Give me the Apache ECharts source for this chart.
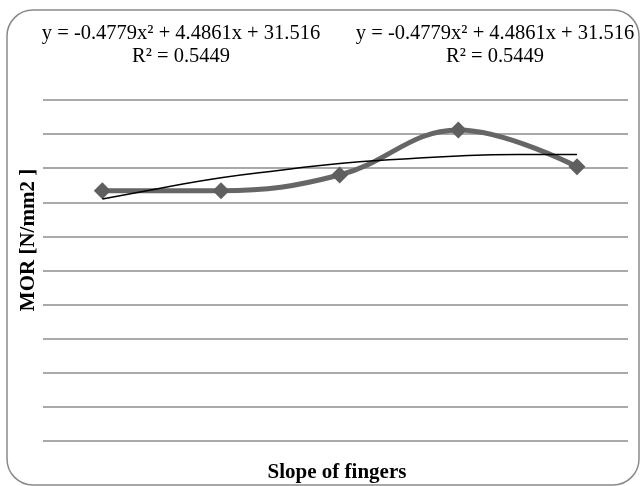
<!DOCTYPE html>
<html><head><meta charset="utf-8">
<script src="https://cdn.jsdelivr.net/npm/echarts@6/dist/echarts.min.js"></script>
<style>html,body{margin:0;padding:0;background:#fff}#c{width:643px;height:486px}</style>
</head><body><div id="c"></div>
<script>
const categories = [1, 2, 3, 4, 5];
const morValues = [36.7, 36.7, 39.0, 45.6, 40.2];
const trendX = [1, 1.5, 2, 2.5, 3, 3.5, 4, 4.5, 5];
const trendValues = [35.5, 37.1, 38.6, 39.7, 40.7, 41.3, 41.8, 42.0, 42.0];
const equationText = 'y = -0.4779x² + 4.4861x + 31.516';
const r2Text = 'R² = 0.5449';

const chart = echarts.init(document.getElementById('c'), null, {renderer: 'canvas'});
const serif = '"Liberation Serif", "Times New Roman", serif';
chart.setOption({
  animation: false,
  grid: {left: 43, right: 15, top: 100, bottom: 45, containLabel: false},
  xAxis: {
    type: 'value', min: 0.5, max: 5.43,
    axisLine: {show: false}, axisTick: {show: false}, axisLabel: {show: false},
    splitLine: {show: false}
  },
  yAxis: {
    type: 'value', min: 0, max: 50, interval: 5,
    axisLine: {show: false}, axisTick: {show: false}, axisLabel: {show: false},
    splitLine: {show: true, lineStyle: {color: '#8c8c8c', width: 1.5}}
  },
  graphic: [
    {type: 'rect', shape: {x: 7, y: 10, width: 632, height: 475, r: 26},
     style: {fill: 'none', stroke: '#8a8a8a', lineWidth: 1.5}, z: 0},
    {type: 'text', x: 181, y: 34, style: {text: equationText, font: '20.5px ' + serif, fill: '#000', align: 'center', verticalAlign: 'middle'}},
    {type: 'text', x: 181, y: 57, style: {text: r2Text, font: '20.5px ' + serif, fill: '#000', align: 'center', verticalAlign: 'middle'}},
    {type: 'text', x: 495, y: 34, style: {text: equationText, font: '20.5px ' + serif, fill: '#000', align: 'center', verticalAlign: 'middle'}},
    {type: 'text', x: 495, y: 57, style: {text: r2Text, font: '20.5px ' + serif, fill: '#000', align: 'center', verticalAlign: 'middle'}},
    {type: 'text', x: 337, y: 473, style: {text: 'Slope of fingers', font: 'bold 21px ' + serif, fill: '#000', align: 'center', verticalAlign: 'middle'}},
    {type: 'text', x: 29, y: 240, rotation: Math.PI / 2, style: {text: 'MOR [N/mm2 ]', font: 'bold 21px ' + serif, fill: '#000', align: 'center', verticalAlign: 'middle'}}
  ],
  series: [
    {
      type: 'line', data: categories.map((c, i) => [c, morValues[i]]),
      smooth: 0.4, symbol: 'diamond', symbolSize: 17,
      lineStyle: {color: '#666666', width: 5},
      itemStyle: {color: '#5f5f5f'}, z: 2
    },
    {
      type: 'line', data: trendX.map((x, i) => [x, trendValues[i]]),
      smooth: true, symbol: 'none',
      lineStyle: {color: '#000', width: 1.5}, z: 3
    }
  ]
});
</script></body></html>
